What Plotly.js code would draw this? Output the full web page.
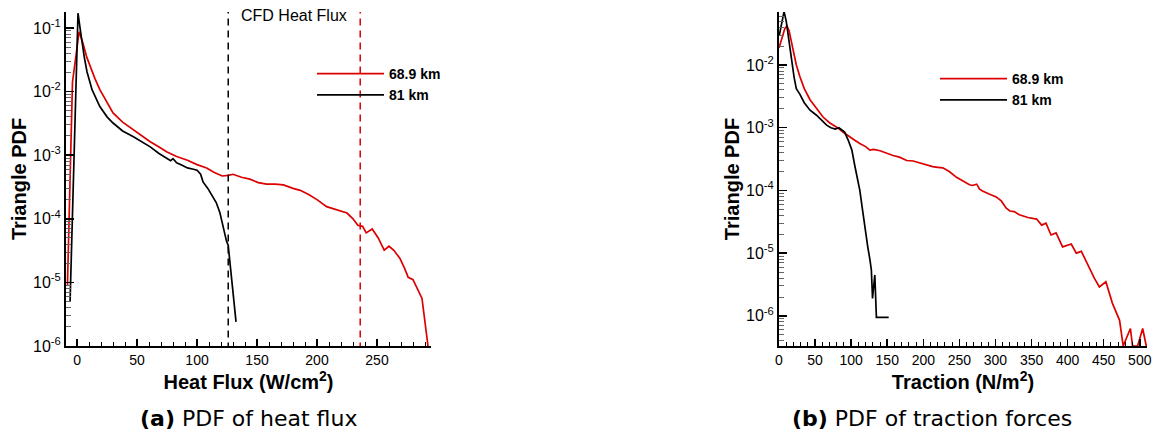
<!DOCTYPE html>
<html>
<head>
<meta charset="utf-8">
<script src="https://cdn.plot.ly/plotly-3.0.1.min.js"></script>
<style>html,body{margin:0;padding:0;background:#fff;}#chart{width:1155px;height:437px;}</style>
</head>
<body>
<div id="chart"></div>
<script>
// ---- Data ----
// (a) PDF of heat flux
const heatX_69 = [-8, -3.8, 1.7, 5, 8, 11, 15, 19, 25, 30, 38, 47, 55, 61, 68, 75, 83, 92, 100, 108, 114, 121, 126, 130, 137, 144, 151, 158, 165, 172, 180, 186, 193, 200, 208, 216, 225, 230, 234, 238, 241, 246, 251, 256, 260, 264, 269, 273, 276, 280, 284, 287.5, 292.5];
const heatY_69 = [8.9e-6, 0.014, 0.087, 0.057, 0.035, 0.0245, 0.0158, 0.0107, 0.0066, 0.0046, 0.0033, 0.0025, 0.002, 0.00162, 0.00135, 0.00112, 0.00095, 0.00083, 0.00071, 0.00063, 0.00054, 0.00047, 0.00048, 0.0005, 0.00045, 0.00042, 0.00037, 0.00035, 0.00035, 0.00034, 0.0003, 0.00028, 0.00024, 0.0002, 0.000155, 0.000138, 0.000123, 0.0001, 7.9e-5, 7.6e-5, 6.0e-5, 6.9e-5, 5.0e-5, 3.2e-5, 3.7e-5, 3.2e-5, 2.4e-5, 1.66e-5, 1.2e-5, 1.1e-5, 7.9e-6, 5.6e-6, 1e-6];
const heatX_81 = [-5.8, -2.5, 0.8, 2.5, 4, 6, 8.3, 12.5, 19, 25, 30, 38, 47, 55, 61, 68, 75, 78, 80, 83, 88, 92, 97, 100, 103, 105, 109, 113, 116, 119, 122, 124.5, 126, 127.5, 129, 131, 132.5];
const heatY_81 = [5.0e-6, 1.0e-3, 0.17, 0.1, 0.06, 0.035, 0.0205, 0.0107, 0.0058, 0.004, 0.0032, 0.0024, 0.00195, 0.00158, 0.00135, 0.00107, 0.00087, 0.00082, 0.00088, 0.00076, 0.00069, 0.00063, 0.0006, 0.00058, 0.0005, 0.00038, 0.0003, 0.00022, 0.00018, 0.000126, 7.1e-5, 4.5e-5, 3.8e-5, 2.0e-5, 1.2e-5, 5.0e-6, 2.4e-6];
const cfdHeatFlux = [126, 236];          // CFD heat flux for 81 km, 68.9 km
const cfdLabel = "CFD Heat Flux";

// (b) PDF of traction forces
const tracX_69 = [0, 4, 8, 11, 14, 17, 20, 24, 29, 35, 43, 52, 61, 70, 80, 90, 98, 105, 112, 120, 126, 131, 140, 149, 158, 167, 177, 186, 195, 205, 213, 220, 227, 236, 246, 255, 264, 268, 274, 278, 282, 292, 301, 308, 315, 320, 326, 333, 345, 357, 364, 370, 377, 384, 393, 405, 412, 419, 430, 437, 444, 453, 462, 468, 472, 477, 487, 490, 497, 504, 509];
const tracY_69 = [0.0186, 0.028, 0.038, 0.042, 0.035, 0.024, 0.0158, 0.01, 0.0065, 0.0042, 0.0028, 0.002, 0.00148, 0.0012, 0.00102, 0.00083, 0.00071, 0.00063, 0.00056, 0.0005, 0.00044, 0.00045, 0.00043, 0.00039, 0.00036, 0.00034, 0.0003, 0.000295, 0.000275, 0.000257, 0.00024, 0.000234, 0.000229, 0.0002, 0.000162, 0.000141, 0.000123, 0.00012, 0.000126, 0.000105, 9.8e-5, 8.7e-5, 7.9e-5, 6.8e-5, 5.2e-5, 4.7e-5, 4.6e-5, 4.1e-5, 3.7e-5, 3.5e-5, 2.8e-5, 3.0e-5, 1.95e-5, 2.1e-5, 1.26e-5, 1.4e-5, 1.0e-5, 1.07e-5, 5.8e-6, 4.0e-6, 2.9e-6, 3.5e-6, 1.6e-6, 1.1e-6, 8.5e-7, 3.3e-7, 6.3e-7, 3.3e-7, 3.3e-7, 6.3e-7, 3.3e-7];
const tracX_81 = [0.5, 4, 7, 10, 13, 15, 18, 21, 24, 29, 35, 43, 52, 61, 66, 72, 78, 83, 91, 96, 101, 105, 109, 112, 116, 119, 121, 123, 126, 128, 129.6, 132.8, 135, 152];
const tracY_81 = [0.03, 0.05, 0.071, 0.05, 0.028, 0.0174, 0.0112, 0.0063, 0.0042, 0.0034, 0.0025, 0.0019, 0.00158, 0.00126, 0.0011, 0.001, 0.00095, 0.001, 0.00085, 0.00063, 0.00044, 0.00025, 0.00014, 0.0001, 4.7e-5, 2.5e-5, 1.8e-5, 1.26e-5, 7.9e-6, 5.4e-6, 1.9e-6, 4.5e-6, 9.5e-7, 9.5e-7];

const seriesNames = ["68.9 km", "81 km"];
const seriesColors = ["rgb(220,0,0)", "#000000"];
const heatTicks = [0, 50, 100, 150, 200, 250];
const tracTicks = [0, 50, 100, 150, 200, 250, 300, 350, 400, 450, 500];
const decadeExps = [-6, -5, -4, -3, -2, -1];

// ---- Build ----
const W = 1155, H = 437;
const FAM = "Liberation Sans, Arial, sans-serif";
const xTickFont = {family: FAM, size: 14, color: "#000"};
const yTickFont = {family: FAM, size: 16, color: "#000"};
const titleFont = {family: FAM, size: 20, color: "#000", weight: "bold"};

function minorLogVals(lo, hi) {
  const v = [];
  for (let e = lo; e <= hi; e++) for (let m = 2; m <= 9; m++) v.push(m * Math.pow(10, e));
  return v;
}
function logAxis(domain, range, anchor) {
  return {
    domain: domain, type: "log", range: range, anchor: anchor,
    tickmode: "array",
    tickvals: decadeExps.map(e => Math.pow(10, e)),
    ticktext: decadeExps.map(e => "10<sup>" + e + "</sup>"),
    ticks: "inside", ticklen: 8, tickwidth: 1.5, tickcolor: "#000",
    minor: {tickmode: "array", tickvals: minorLogVals(-7, -1), ticks: "inside", ticklen: 5, tickwidth: 1, tickcolor: "#666"},
    showline: true, linecolor: "#000", linewidth: 2, mirror: false,
    showgrid: false, zeroline: false, tickfont: yTickFont,
    title: {text: "Triangle PDF", font: titleFont, standoff: 1}
  };
}
function linAxis(domain, range, ticks, anchor, title) {
  return {
    domain: domain, range: range, anchor: anchor,
    tickmode: "array", tickvals: ticks, ticktext: ticks.map(String),
    ticks: "inside", ticklen: 7, tickwidth: 1.5, tickcolor: "#000",
    minor: {dtick: 10, tick0: 0, ticks: "inside", ticklen: 4, tickwidth: 1, tickcolor: "#000"},
    showline: true, linecolor: "#000", linewidth: 2, mirror: false,
    showgrid: false, zeroline: false, tickfont: xTickFont,
    title: {text: title, font: titleFont, standoff: 4}
  };
}

const lw = 1.7;
const traces = [
  {x: heatX_69, y: heatY_69, xaxis: "x", yaxis: "y", mode: "lines", name: seriesNames[0], legend: "legend",
   line: {color: seriesColors[0], width: lw}},
  {x: heatX_81, y: heatY_81, xaxis: "x", yaxis: "y", mode: "lines", name: seriesNames[1], legend: "legend",
   line: {color: seriesColors[1], width: lw}},
  {x: [cfdHeatFlux[0], cfdHeatFlux[0]], y: [1e-7, 1], xaxis: "x", yaxis: "y", mode: "lines", showlegend: false,
   line: {color: seriesColors[1], width: 1.5, dash: "7px,5px"}},
  {x: [cfdHeatFlux[1], cfdHeatFlux[1]], y: [1e-7, 1], xaxis: "x", yaxis: "y", mode: "lines", showlegend: false,
   line: {color: seriesColors[0], width: 1.5, dash: "7px,5px"}},
  {x: tracX_69, y: tracY_69, xaxis: "x2", yaxis: "y2", mode: "lines", name: seriesNames[0], legend: "legend2",
   line: {color: seriesColors[0], width: lw}},
  {x: tracX_81, y: tracY_81, xaxis: "x2", yaxis: "y2", mode: "lines", name: seriesNames[1], legend: "legend2",
   line: {color: seriesColors[1], width: lw}}
];

const yDom = [1 - 346 / H, 1 - 12 / H];
const legendFont = {family: FAM, size: 14, color: "#000", weight: "bold"};
const layout = {
  width: W, height: H,
  margin: {l: 0, r: 0, t: 0, b: 0},
  paper_bgcolor: "#fff", plot_bgcolor: "#fff",
  showlegend: true,
  xaxis: linAxis([66 / W, 431 / W], [-9.2, 295], heatTicks, "y", "Heat Flux (W/cm<sup>2</sup>)"),
  yaxis: logAxis(yDom, [-6, -0.75], "x"),
  xaxis2: linAxis([779 / W, 1147 / W], [0, 510], tracTicks, "y2", "Traction (N/m<sup>2</sup>)"),
  yaxis2: logAxis(yDom, [-6.48, -1.155], "x2"),
  legend: {x: 312 / W, y: 1 - 58 / H, xanchor: "left", yanchor: "top", bgcolor: "rgba(0,0,0,0)",
           borderwidth: 0, font: legendFont, tracegroupgap: 0, itemwidth: 67},
  legend2: {x: 935 / W, y: 1 - 63 / H, xanchor: "left", yanchor: "top", bgcolor: "rgba(0,0,0,0)",
            borderwidth: 0, font: legendFont, tracegroupgap: 0, itemwidth: 67},
  annotations: [
    {text: cfdLabel, xref: "x", yref: "paper", x: (cfdHeatFlux[0] + cfdHeatFlux[1]) / 2, y: 1 - 16 / H,
     showarrow: false, xanchor: "center", yanchor: "middle",
     font: {family: FAM, size: 16, color: "#000"}},
    {text: "<b>(a)</b> PDF of heat flux", xref: "paper", yref: "paper", x: 248 / W, y: 1 - 418 / H,
     showarrow: false, xanchor: "center", yanchor: "middle",
     font: {family: "DejaVu Sans, Verdana, sans-serif", size: 22, color: "#000"}},
    {text: "<b>(b)</b> PDF of traction forces", xref: "paper", yref: "paper", x: 932 / W, y: 1 - 418 / H,
     showarrow: false, xanchor: "center", yanchor: "middle",
     font: {family: "DejaVu Sans, Verdana, sans-serif", size: 22, color: "#000"}}
  ]
};

Plotly.newPlot("chart", traces, layout, {staticPlot: true, displayModeBar: false});
</script>
</body>
</html>
